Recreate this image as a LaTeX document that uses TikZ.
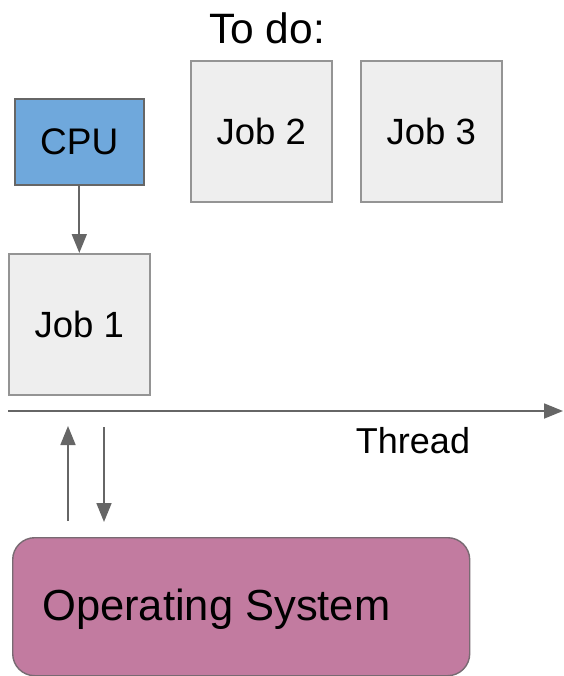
\documentclass[tikz,border=0pt]{standalone}
\usepackage{fontspec}
\setmainfont{Liberation Sans}
\usetikzlibrary{arrows.meta}
\definecolor{cpublue}{HTML}{6FA8DC}
\definecolor{jobgray}{HTML}{EEEEEE}
\definecolor{osmauve}{HTML}{C27BA0}
\definecolor{linegray}{HTML}{666666}
\begin{document}
\begin{tikzpicture}[x=1pt,y=-1pt,
  box/.style={draw=linegray!70, line width=1.6pt, inner sep=0pt, anchor=north west},
  jobbox/.style={box, fill=jobgray, minimum width=141pt, minimum height=141pt, font=\fontsize{36.5}{42}\selectfont},
  conn/.style={draw=linegray, line width=1.8pt, -{Triangle[length=19pt,width=15pt]}}]
\useasboundingbox (0,0) rectangle (563,676);
\node[anchor=center, font=\fontsize{42.5}{48}\selectfont] (todo) at (267,28) {To do:};
\node[box, fill=cpublue, draw=linegray, minimum width=129pt, minimum height=86pt, font=\fontsize{37}{42}\selectfont] (cpu) at (14,98) {CPU};
\node[jobbox] (job1) at (8,253) {Job 1};
\node[jobbox] (job2) at (190,60) {Job 2};
\node[jobbox] (job3) at (360,60) {Job 3};
\draw[conn] (cpu.south) -- (cpu.south |- job1.north);
\coordinate (ts) at (8,411);
\coordinate (te) at (563,411);
\draw[conn] (ts) -- (te);
\node[anchor=center, font=\fontsize{36}{41}\selectfont] (thread) at (413,441) {Thread};
\node[draw=linegray!80!osmauve, line width=1.4pt, fill=osmauve, rounded corners=22pt, anchor=north west, minimum width=457pt, minimum height=138pt, inner sep=0pt] (os) at (12,537) {};
\node[anchor=west, inner sep=0pt, font=\fontsize{43.5}{50}\selectfont] (ostext) at (42,609) {Operating System};
\coordinate (u1) at (68,521);
\coordinate (u2) at (68,426);
\coordinate (d1) at (104,427);
\coordinate (d2) at (104,522);
\draw[conn] (u1) -- (u2);
\draw[conn] (d1) -- (d2);
\end{tikzpicture}
\end{document}
